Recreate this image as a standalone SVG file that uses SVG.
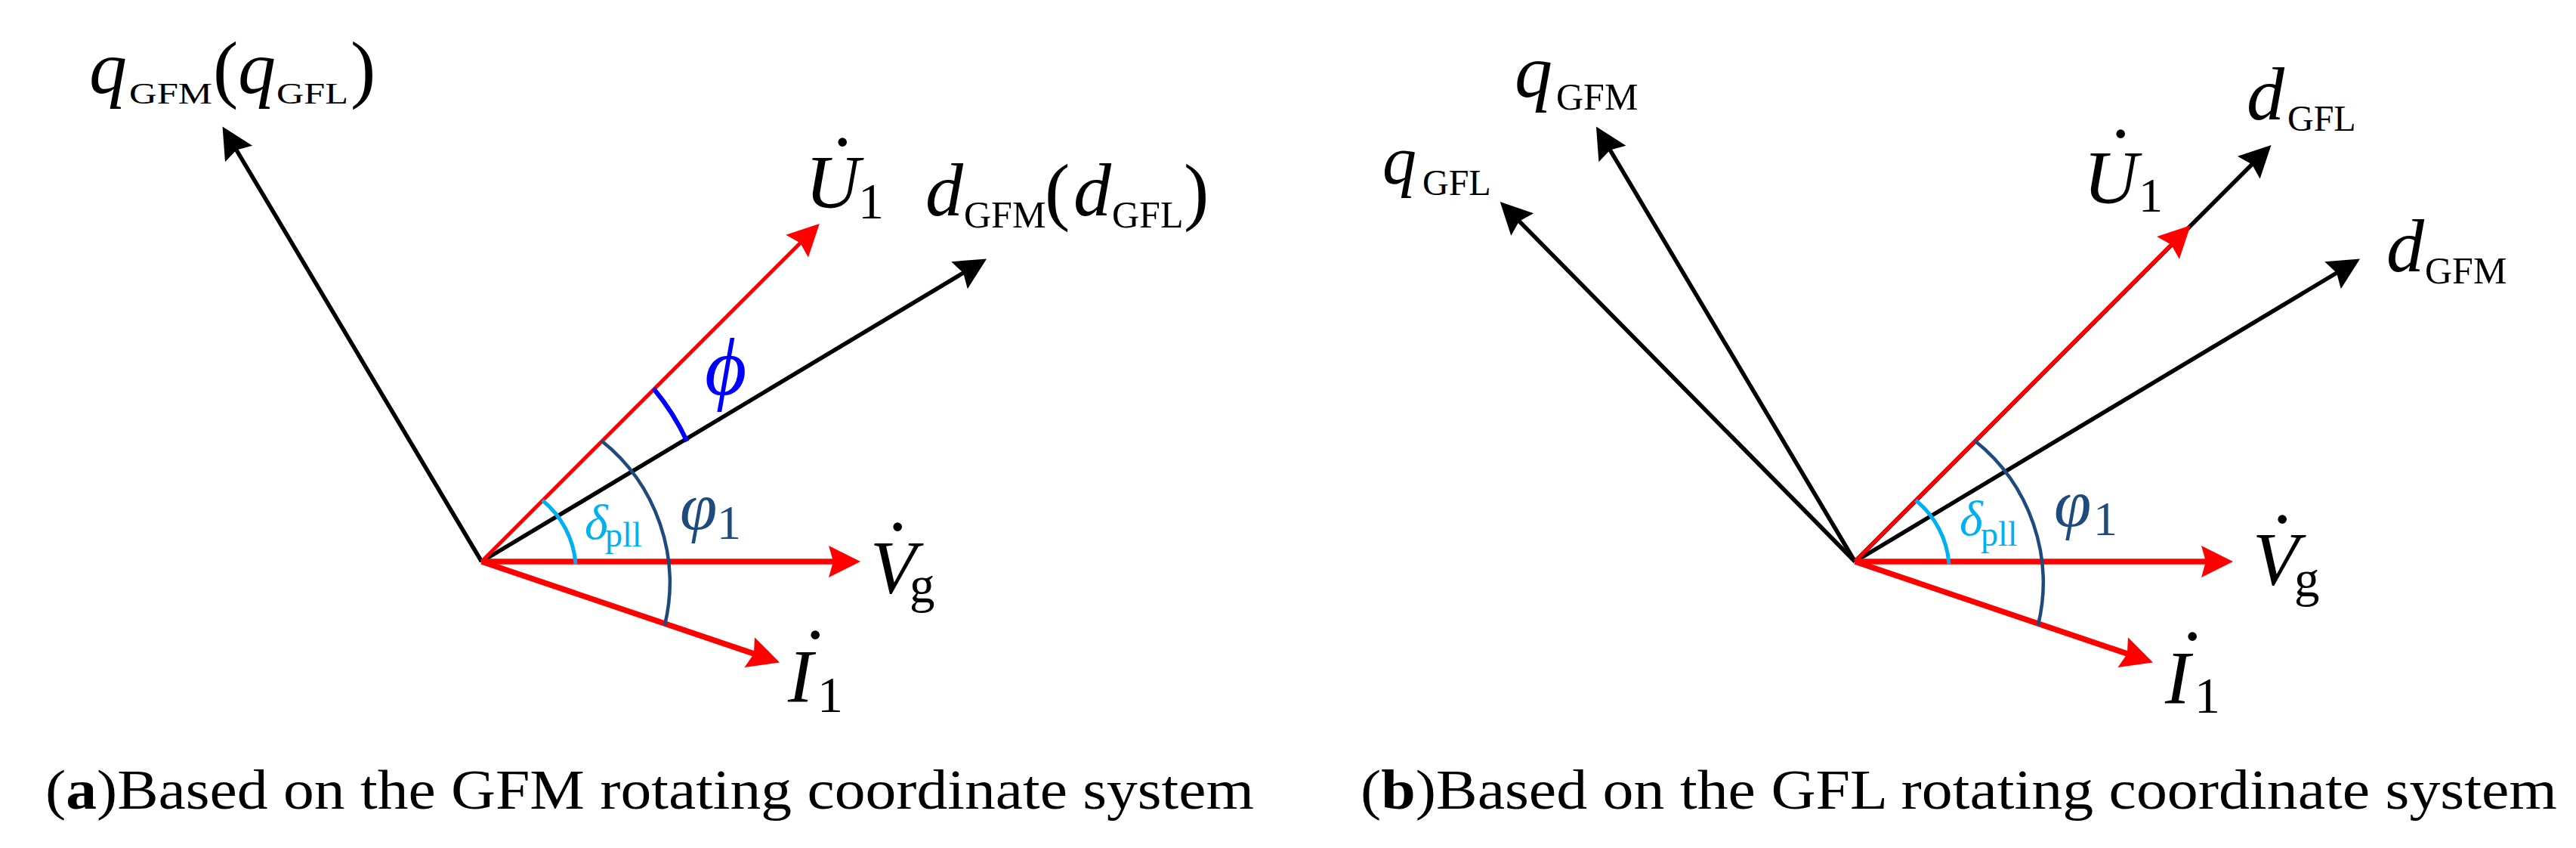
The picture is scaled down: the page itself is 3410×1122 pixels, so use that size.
<svg xmlns="http://www.w3.org/2000/svg" width="3410" height="1122" viewBox="0 0 3410 1122">
<defs>
<style>
.k{stroke:#000;stroke-width:5.5;fill:none;marker-end:url(#ak)}
.r{stroke:#f00;fill:none;marker-end:url(#ar)}
.rt{stroke-width:5}
.rw{stroke-width:7.5}
.arc{fill:none}
.t{font-family:"Liberation Serif","Times New Roman",serif;fill:#000}
.i{font-style:italic}
.n{font-style:normal}
.m{font-size:100px}
.dt{font-style:normal;font-size:110px}
.cap{font-family:"Liberation Serif","Times New Roman",serif;font-size:75px;fill:#000}
</style>
<marker id="ak" markerUnits="userSpaceOnUse" refX="0" refY="0" markerWidth="80" markerHeight="80" orient="auto" overflow="visible"><path d="M30,0 L-12,-21 L-6,0 L-12,21 Z" fill="#000"/></marker>
<marker id="ar" markerUnits="userSpaceOnUse" refX="0" refY="0" markerWidth="80" markerHeight="80" orient="auto" overflow="visible"><path d="M30,0 L-12,-21 L-6,0 L-12,21 Z" fill="#f00"/></marker>
</defs>
<rect width="3410" height="1122" fill="#fff"/>

<g id="connectors">
<!-- panel a -->
<line class="k" x1="637.5" y1="743" x2="309.9" y2="193.3"/>
<line class="k" x1="637.5" y1="743" x2="1280.3" y2="358"/>
<line class="r rt" x1="637.5" y1="743" x2="1063.6" y2="317.2"/>
<line class="r rw" x1="637.5" y1="743" x2="1109" y2="743"/>
<line class="r rw" x1="637.5" y1="743" x2="1003.6" y2="866.9"/>
<path class="arc" d="M718,662 A120,120 0 0 1 762,746" stroke="#00B0F0" stroke-width="5"/>
<path class="arc" d="M796,583 A240,240 0 0 1 880,827" stroke="#1F4A7D" stroke-width="4.5"/>
<path class="arc" d="M865,514 A320,320 0 0 1 909.5,584" stroke="#0000FF" stroke-width="6"/>
<!-- panel b -->
<line class="k" x1="2455.5" y1="743" x2="2006.8" y2="288.4"/>
<line class="k" x1="2455.5" y1="743" x2="2128.3" y2="193.3"/>
<line class="k" x1="2455.5" y1="743" x2="2985.3" y2="213.2"/>
<line class="k" x1="2455.5" y1="743" x2="3098.3" y2="358"/>
<line class="r rt" x1="2455.5" y1="743" x2="2878.5" y2="319.4"/>
<line class="r rw" x1="2455.5" y1="743" x2="2926" y2="743"/>
<line class="r rw" x1="2455.5" y1="743" x2="2821.6" y2="866.9"/>
<path class="arc" d="M2536,662 A120,120 0 0 1 2580,746" stroke="#00B0F0" stroke-width="5"/>
<path class="arc" d="M2614,583 A240,240 0 0 1 2698,827" stroke="#1F4A7D" stroke-width="4.5"/>
</g>

<!-- panel a labels -->
<g id="a-q">
<text class="t i m" x="118" y="123">q</text>
<text class="t" x="171" y="137" font-size="40" textLength="110" lengthAdjust="spacingAndGlyphs">GFM</text>
<text class="t m" x="282" y="124">(</text>
<text class="t i m" x="315" y="123">q</text>
<text class="t" x="366" y="137" font-size="40" textLength="95" lengthAdjust="spacingAndGlyphs">GFL</text>
<text class="t m" x="464" y="124">)</text>
</g>
<g id="a-U1">
<text class="t i m" x="1066" y="274">U<tspan class="dt" x="1096.7" y="255">˙</tspan><tspan class="n" x="1136" y="288.5" font-size="68">1</tspan></text>
</g>
<g id="a-d">
<text class="t i m" x="1225" y="285">d<tspan class="n" x="1276" y="301" font-size="50">GFM</tspan><tspan class="n" x="1383" y="286">(</tspan><tspan x="1421" y="285">d</tspan><tspan class="n" x="1472" y="301" font-size="50">GFL</tspan><tspan class="n" x="1567" y="286">)</tspan></text>
</g>
<g id="a-phi">
<text class="t i" x="933" y="522" font-size="107" style="fill:#0000FF">&#x3D5;</text>
</g>
<g id="a-delta">
<text class="t i" x="774" y="713" font-size="66" style="fill:#00B0F0">δ<tspan class="n" x="801" y="723" font-size="46">pll</tspan></text>
</g>
<g id="a-phi1">
<text class="t i" x="900" y="700" font-size="89" style="fill:#1F4A7D">φ<tspan class="n" x="949" y="713" font-size="64">1</tspan></text>
</g>
<g id="a-Vg">
<text class="t i m" x="1152" y="784">V<tspan class="dt" x="1169.7" y="764">˙</tspan><tspan class="n" x="1204" y="797" font-size="67">g</tspan></text>
</g>
<g id="a-I1">
<text class="t i m" x="1043" y="928">I<tspan class="dt" x="1060.7" y="907">˙</tspan><tspan class="n" x="1082" y="941.5" font-size="68">1</tspan></text>
</g>

<!-- panel b labels -->
<g id="b-qGFL">
<text class="t i" x="1830" y="243" font-size="90">q<tspan class="n" x="1883" y="258" font-size="48">GFL</tspan></text>
</g>
<g id="b-qGFM">
<text class="t i m" x="2005" y="128">q<tspan class="n" x="2060" y="145" font-size="50">GFM</tspan></text>
</g>
<g id="b-U1">
<text class="t i m" x="2758" y="268">U<tspan class="dt" x="2788.7" y="244">˙</tspan><tspan class="n" x="2831" y="280" font-size="64">1</tspan></text>
</g>
<g id="b-dGFL">
<text class="t i m" x="2974" y="158">d<tspan class="n" x="3028" y="173" font-size="48">GFL</tspan></text>
</g>
<g id="b-dGFM">
<text class="t i m" x="3159" y="359">d<tspan class="n" x="3210" y="375" font-size="50">GFM</tspan></text>
</g>
<g id="b-delta">
<text class="t i" x="2594" y="708" font-size="66" style="fill:#00B0F0">δ<tspan class="n" x="2622" y="722" font-size="46">pll</tspan></text>
</g>
<g id="b-phi1">
<text class="t i" x="2719" y="696" font-size="89" style="fill:#1F4A7D">φ<tspan class="n" x="2771" y="708" font-size="64">1</tspan></text>
</g>
<g id="b-Vg">
<text class="t i m" x="2982" y="773">V<tspan class="dt" x="3002.7" y="754">˙</tspan><tspan class="n" x="3037" y="789" font-size="67">g</tspan></text>
</g>
<g id="b-I1">
<text class="t i m" x="2866" y="930">I<tspan class="dt" x="2883.7" y="909">˙</tspan><tspan class="n" x="2905" y="943" font-size="68">1</tspan></text>
</g>

<!-- captions -->
<g id="cap-a">
<text class="cap" x="60" y="1070" textLength="1600" lengthAdjust="spacingAndGlyphs">(<tspan font-weight="bold">a</tspan>)Based on the GFM rotating coordinate system</text>
</g>
<g id="cap-b">
<text class="cap" x="1801" y="1070" textLength="1584" lengthAdjust="spacingAndGlyphs">(<tspan font-weight="bold">b</tspan>)Based on the GFL rotating coordinate system</text>
</g>
</svg>
